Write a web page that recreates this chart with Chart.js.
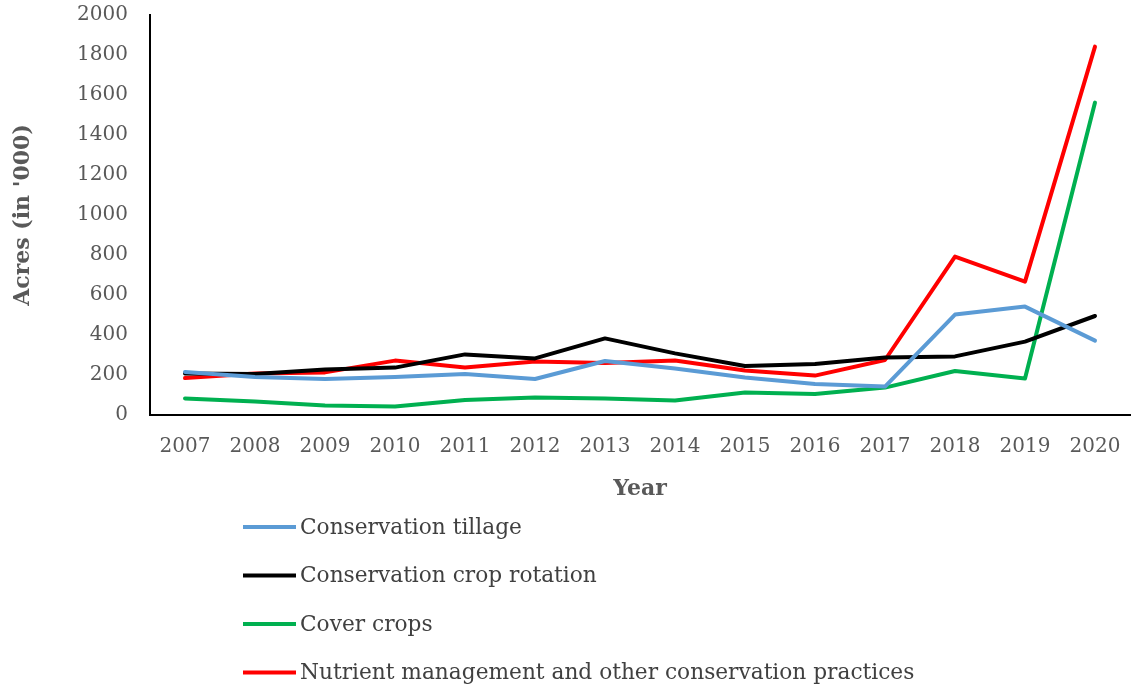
<!DOCTYPE html>
<html>
<head>
<meta charset="utf-8">
<script src="https://cdn.jsdelivr.net/npm/chart.js@4"></script>
<style>
  html, body { margin: 0; padding: 0; background: #fff; }
  #wrap { width: 1131px; height: 689px; }
</style>
</head>
<body>
<div id="wrap"><canvas id="chart" width="1131" height="689"></canvas></div>
<script>
// data
const years = ['2007', '2008', '2009', '2010', '2011', '2012', '2013', '2014', '2015', '2016', '2017', '2018', '2019', '2020'];
const tillage = [215, 190, 180, 190, 205, 180, 270, 233, 188, 155, 142, 502, 542, 372];
const cropRotation = [208, 205, 228, 237, 303, 283, 383, 308, 245, 255, 288, 293, 367, 495];
const coverCrops = [83, 67, 47, 42, 75, 88, 83, 72, 113, 105, 137, 220, 183, 1562];
const nutrient = [185, 207, 213, 272, 237, 267, 260, 272, 222, 197, 275, 792, 667, 1842];
const yTicks = [0, 200, 400, 600, 800, 1000, 1200, 1400, 1600, 1800, 2000];

const serif = "'DejaVu Serif', serif";
const grey = '#595959';

// legend stacked under the chart, drawn by hand
const stackedLegend = {
    id: 'stackedLegend',
    afterDraw(chart) {
        const ctx = chart.ctx;
        const x0 = 243;
        let y = 527;
        ctx.save();
        ctx.font = '21.7px ' + serif;
        ctx.textBaseline = 'middle';
        chart.data.datasets.forEach(ds => {
            ctx.strokeStyle = ds.borderColor;
            ctx.lineWidth = 4;
            ctx.beginPath();
            ctx.moveTo(x0, y);
            ctx.lineTo(x0 + 53, y);
            ctx.stroke();
            ctx.fillStyle = '#404040';
            ctx.fillText(ds.label, x0 + 57, y + 1);
            y += 48.5;
        });
        ctx.restore();
    }
};

new Chart(document.getElementById('chart').getContext('2d'), {
    type: 'line',
    data: {
        labels: years,
        datasets: [
            { label: 'Conservation tillage', data: tillage, borderColor: '#5B9BD5' },
            { label: 'Conservation crop rotation', data: cropRotation, borderColor: '#000000' },
            { label: 'Cover crops', data: coverCrops, borderColor: '#00B050' },
            { label: 'Nutrient management and other conservation practices', data: nutrient, borderColor: '#FF0000' }
        ]
    },
    options: {
        responsive: false,
        animation: false,
        layout: { padding: { top: 15, right: 1, bottom: 183, left: 0 } },
        elements: {
            line: { borderWidth: 4, tension: 0, borderCapStyle: 'round', borderJoinStyle: 'round' },
            point: { radius: 0 }
        },
        plugins: {
            legend: { display: false },
            tooltip: { enabled: false }
        },
        scales: {
            x: {
                offset: true,
                grid: { display: false, drawTicks: false },
                border: { color: '#000', width: 2 },
                ticks: { color: grey, font: { family: serif, size: 20 }, padding: 20, maxRotation: 0 },
                title: { display: true, text: 'Year', color: grey, font: { family: serif, size: 22, weight: 'bold' }, padding: { top: 4 } },
                afterFit(scale) {
                    scale.height = 91;
                    scale.paddingLeft = 0;
                    scale.paddingRight = 0;
                }
            },
            y: {
                min: 0,
                max: 2000,
                afterBuildTicks(scale) { scale.ticks = yTicks.map(v => ({ value: v })); },
                grid: { display: false, drawTicks: false },
                border: { color: '#000', width: 2 },
                ticks: { color: grey, font: { family: serif, size: 20 }, padding: 22, callback: v => String(v) },
                title: { display: true, text: "Acres (in '000)", color: grey, font: { family: serif, size: 22, weight: 'bold' }, padding: { top: 10, bottom: 0 } },
                afterFit(scale) {
                    scale.width = 150;
                    scale.paddingTop = 0;
                    scale.paddingBottom = 0;
                }
            }
        }
    },
    plugins: [stackedLegend]
});
</script>
</body>
</html>
